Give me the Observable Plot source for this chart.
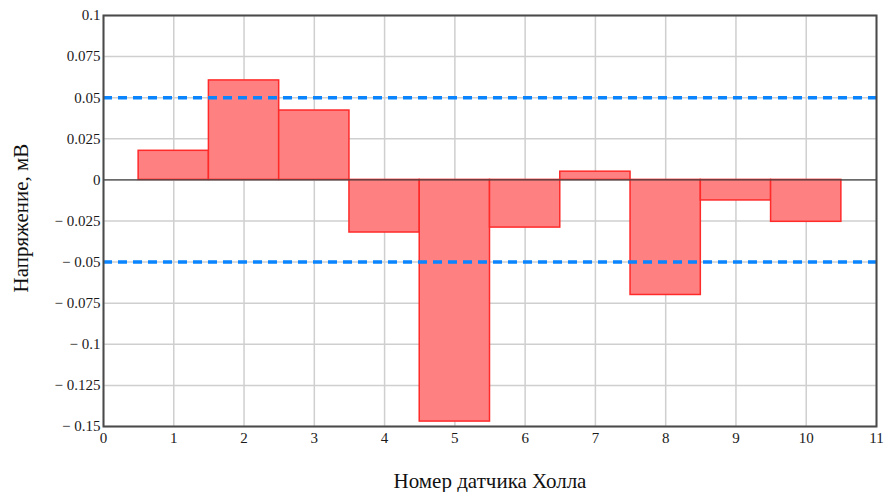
<!DOCTYPE html>
<html>
<head>
<meta charset="utf-8">
<script src="https://cdn.jsdelivr.net/npm/d3@7"></script>
<script src="https://cdn.jsdelivr.net/npm/@observablehq/plot@0.6"></script>
<style>
  html, body { margin: 0; padding: 0; background: #fff; }
  #chart svg { display: block; }
</style>
</head>
<body>
<div id="chart"></div>
<script>
// Hall sensor numbers and the measured voltage at each (mV)
const sensors = [1, 2, 3, 4, 5, 6, 7, 8, 9, 10];
const voltages = [0.0177, 0.0605, 0.0422, -0.032, -0.147, -0.029, 0.005, -0.070, -0.0125, -0.0255];

// Tolerance band limits
const limits = [0.05, -0.05];

// Axis ticks
const xTicks = [0, 1, 2, 3, 4, 5, 6, 7, 8, 9, 10, 11];
const yTicks = [0.1, 0.075, 0.05, 0.025, 0, -0.025, -0.05, -0.075, -0.1, -0.125, -0.15];
const yTickLabels = ["0.1", "0.075", "0.05", "0.025", "0", "\u2212 0.025", "\u2212 0.05", "\u2212 0.075", "\u2212 0.1", "\u2212 0.125", "\u2212 0.15"];

const data = sensors.map((n, i) => ({n, v: voltages[i]}));
const yLabel = new Map(yTicks.map((t, i) => [t, yTickLabels[i]]));
const serif = "Liberation Serif";

const chart = Plot.plot({
  width: 888,
  height: 492,
  marginLeft: 103,
  marginRight: 12,
  marginTop: 15,
  marginBottom: 66,
  style: {fontFamily: serif, background: "#fff"},
  x: {domain: [0, 11], label: null, axis: null},
  y: {domain: [-0.15, 0.1], label: null, axis: null},
  marks: [
    Plot.gridX(xTicks, {stroke: "#cfcfcf", strokeOpacity: 1, strokeWidth: 1.5}),
    Plot.gridY(yTicks, {stroke: "#cfcfcf", strokeOpacity: 1, strokeWidth: 1.5}),
    Plot.rectY(data, {x1: d => d.n - 0.5, x2: d => d.n + 0.5, y1: 0, y2: "v", fill: "#ff8080", stroke: "#ff2a2a", strokeWidth: 1.5}),
    Plot.ruleY([0], {stroke: "#444", strokeWidth: 1.3}),
    Plot.ruleY(limits, {stroke: "#0a84ff", strokeWidth: 3.5, strokeDasharray: "9,6"}),
    Plot.frame({stroke: "#4a4a4a", strokeWidth: 2}),
    // tick labels
    Plot.text(xTicks, {x: d => d, text: d => String(d), frameAnchor: "bottom", lineAnchor: "top", dy: 6, fontSize: 15, fontFamily: serif, fill: "#1a1a1a"}),
    Plot.text(yTicks, {y: d => d, text: d => yLabel.get(d), frameAnchor: "left", textAnchor: "end", dx: -3, fontSize: 15, fontFamily: serif, fill: "#1a1a1a"}),
    // axis titles
    Plot.text(["Номер датчика Холла"], {frameAnchor: "bottom", dy: 61, fontSize: 21, fontFamily: serif, fill: "#111"}),
    Plot.text(["Напряжение, мВ"], {frameAnchor: "left", textAnchor: "middle", dx: -82, dy: -3, rotate: -90, fontSize: 21, letterSpacing: 1, fontFamily: serif, fill: "#111"})
  ]
});

document.getElementById("chart").appendChild(chart);
</script>
</body>
</html>
